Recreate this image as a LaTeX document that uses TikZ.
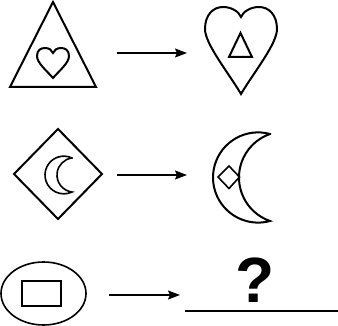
\documentclass[tikz,border=0pt]{standalone}
\usepackage{fontspec}
\setmainfont{Liberation Sans}
\usetikzlibrary{arrows.meta}
\begin{document}
\begin{tikzpicture}[x=1pt,y=1pt,
  shp/.style={line width=2pt, line join=miter},
  thin shp/.style={line width=1.6pt},
  conn/.style={line width=1.5pt, -{Stealth[length=12pt,width=9pt,inset=2pt]}}]
\useasboundingbox (0,0) rectangle (338,326);
% ---------- Row 1 ----------
% big triangle
\draw[shp] (53,324) -- (96,239) -- (10,239) -- cycle;
% small heart inside triangle
\draw[shp] (53,248) .. controls (47,255) and (37,263) .. (37,270)
  .. controls (37,276) and (41,278) .. (45,278)
  .. controls (49,278) and (52,276) .. (53,273)
  .. controls (54,276) and (57,278) .. (61,278)
  .. controls (65,278) and (69,276) .. (69,270)
  .. controls (69,263) and (59,255) .. (53,248) -- cycle;
% arrow 1
\coordinate (a1s) at (117,273);
\coordinate (a1e) at (187,273);
\draw[conn] (a1s) -- (a1e);
% big heart
\draw[shp] (241,232) .. controls (228,254) and (205,282) .. (205,297)
  .. controls (205,311) and (213,319) .. (223,319)
  .. controls (232,319) and (239,314) .. (241,309)
  .. controls (243,314) and (250,319) .. (259,319)
  .. controls (269,319) and (277,311) .. (277,297)
  .. controls (277,282) and (254,254) .. (241,232) -- cycle;
% small triangle inside heart
\draw[shp] (240.5,293) -- (252,269) -- (229,269) -- cycle;
% ---------- Row 2 ----------
% diamond
\draw[shp] (58,197) -- (102,152) -- (58,107) -- (14,152) -- cycle;
% small crescent inside diamond
\draw[thin shp] (63.85,151) ++(64.4:18.85) arc[start angle=64.4, end angle=295.6, radius=18.85]
  arc[start angle=262.9, end angle=97.1, radius=17.13] -- cycle;
% arrow 2
\coordinate (a2s) at (117,151);
\coordinate (a2e) at (187,151);
\draw[conn] (a2s) -- (a2e);
% big crescent
\draw[shp] (258.1,148.5) ++(74.7:45.1) arc[start angle=74.7, end angle=285.3, radius=45.1]
  arc[start angle=251, end angle=109, radius=46] -- cycle;
% small diamond inside crescent
\draw[thin shp] (218,149) -- (229,160) -- (239.5,149) -- (229,137.5) -- cycle;
% ---------- Row 3 ----------
\draw[thin shp] (43.5,32.5) ellipse[x radius=42.5, y radius=31.5];
\draw[shp] (22,20) rectangle (61,45);
% arrow 3
\coordinate (a3s) at (109,31);
\coordinate (a3e) at (180,31);
\draw[conn] (a3s) -- (a3e);
% question mark and answer line
\node[font=\fontsize{64}{64}\selectfont\bfseries, inner sep=0pt, anchor=base] (q) at (255,23) {?};
\coordinate (l1) at (185,15);
\coordinate (l2) at (338,15);
\draw[line width=1.7pt] (l1) -- (l2);
\end{tikzpicture}
\end{document}
